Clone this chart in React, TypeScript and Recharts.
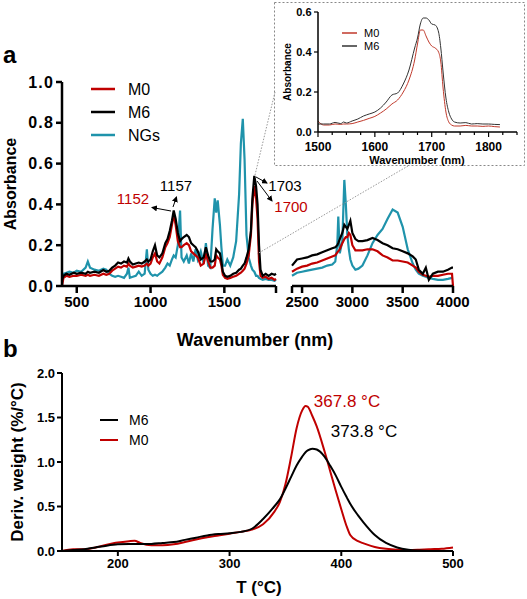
import { Line, LineChart, XAxis, YAxis } from "recharts";

const FONT = "Arial, 'Liberation Sans', sans-serif";
const RED = "#c00000";
const TEAL = "#1f93ab";

// panel a, left part of the broken axis (400-1850)
const waveLo = [
  400, 410, 430, 450, 480, 500, 530, 560, 575, 590,
  620, 650, 680, 700, 720, 740, 760, 780, 800, 820,
  840, 850, 860, 880, 900, 920, 940, 960, 975, 985,
  1000, 1015, 1030, 1045, 1060, 1080, 1100, 1115, 1130, 1145,
  1157, 1170, 1185, 1200, 1210, 1225, 1245, 1260, 1275, 1290,
  1305, 1320, 1340, 1360, 1375, 1390, 1405, 1420, 1435, 1445,
  1455, 1470, 1480, 1490, 1505, 1520, 1540, 1560, 1580, 1600,
  1612, 1625, 1637, 1650, 1665, 1680, 1690, 1703, 1715, 1725,
  1735, 1745, 1760, 1780, 1800, 1820, 1840, 1850
];
const m6Lo = [
  0.03, 0.05, 0.06, 0.055, 0.065, 0.06, 0.065, 0.06, 0.07, 0.065,
  0.07, 0.065, 0.078, 0.07, 0.075, 0.09, 0.1, 0.115, 0.11, 0.12,
  0.115, 0.135, 0.12, 0.105, 0.11, 0.115, 0.11, 0.12, 0.13, 0.12,
  0.13, 0.17, 0.2, 0.15, 0.14, 0.16, 0.21, 0.23, 0.27, 0.32,
  0.37, 0.33, 0.26, 0.22, 0.23, 0.24, 0.25, 0.24, 0.21, 0.2,
  0.19, 0.17, 0.13, 0.14, 0.19, 0.15, 0.12, 0.12, 0.13, 0.18,
  0.17, 0.16, 0.12, 0.07, 0.05, 0.045, 0.05, 0.06, 0.065, 0.08,
  0.085, 0.1, 0.11, 0.14, 0.18, 0.27, 0.43, 0.54, 0.49, 0.4,
  0.2, 0.08, 0.05, 0.06, 0.05, 0.06, 0.055, 0.06
];
const m0Lo = [
  0.0, 0.04, 0.05, 0.045, 0.05, 0.05, 0.055, 0.05, 0.055, 0.05,
  0.055, 0.05, 0.06, 0.055, 0.06, 0.075, 0.085, 0.095, 0.09, 0.1,
  0.095, 0.11, 0.1, 0.09, 0.095, 0.1, 0.095, 0.1, 0.11, 0.1,
  0.11, 0.14, 0.16, 0.12, 0.11, 0.14, 0.19, 0.21, 0.24, 0.3,
  0.35, 0.3, 0.22, 0.19, 0.19, 0.2, 0.21, 0.2, 0.17, 0.16,
  0.15, 0.14, 0.1, 0.11, 0.16, 0.12, 0.09, 0.09, 0.1, 0.15,
  0.14, 0.13, 0.1, 0.055, 0.04, 0.035, 0.04, 0.045, 0.05, 0.06,
  0.065, 0.075, 0.085, 0.11, 0.15, 0.25, 0.4, 0.49, 0.43, 0.33,
  0.12, 0.05, 0.04, 0.045, 0.035, 0.04, 0.03, 0.035
];
const ngsLo = [
  0.02, 0.06, 0.065, 0.07, 0.065, 0.075, 0.07, 0.09, 0.12, 0.09,
  0.08, 0.075, 0.085, 0.08, 0.06, 0.05, 0.045, 0.05, 0.045, 0.04,
  0.06, 0.09, 0.04, 0.045, 0.05, 0.07, 0.05, 0.06, 0.18, 0.08,
  0.06, 0.05, 0.055, 0.05, 0.06, 0.07, 0.09, 0.11, 0.1, 0.13,
  0.15, 0.14, 0.2, 0.37, 0.14, 0.12, 0.15, 0.11, 0.16, 0.12,
  0.18, 0.13, 0.17, 0.11, 0.21, 0.1, 0.09, 0.28, 0.43, 0.36,
  0.42, 0.3, 0.19, 0.1, 0.1, 0.13, 0.1, 0.14, 0.22, 0.45,
  0.7, 0.82, 0.62, 0.25, 0.14, 0.1, 0.08, 0.07, 0.05, 0.05,
  0.04, 0.035, 0.03, 0.035, 0.03, 0.03, 0.025, 0.03
];

// panel a, right part (2400-4000)
const waveHi = [
  2400, 2450, 2500, 2550, 2600, 2650, 2700, 2750, 2800, 2830,
  2850, 2860, 2875, 2900, 2920, 2935, 2950, 2965, 2980, 3000,
  3030, 3060, 3100, 3150, 3200, 3250, 3300, 3350, 3400, 3450,
  3500, 3550, 3600, 3630, 3660, 3700, 3730, 3760, 3800, 3850,
  3900, 3950, 3990, 4000
];
const m6Hi = [
  0.1, 0.13, 0.135, 0.14, 0.15, 0.155, 0.165, 0.175, 0.185, 0.19,
  0.2, 0.21, 0.23, 0.26, 0.3, 0.29, 0.28, 0.3, 0.32, 0.26,
  0.23, 0.22, 0.22, 0.225, 0.235, 0.225, 0.21, 0.2, 0.185, 0.18,
  0.17, 0.16, 0.145, 0.13, 0.08, 0.06, 0.09, 0.03, 0.06, 0.07,
  0.07, 0.08, 0.09, 0.09
];
const m0Hi = [
  0.07, 0.085, 0.095, 0.1, 0.11, 0.115, 0.125, 0.135, 0.145, 0.15,
  0.165, 0.17, 0.18, 0.21, 0.23, 0.24, 0.24, 0.26, 0.25, 0.2,
  0.175, 0.175, 0.175, 0.18, 0.18, 0.17, 0.15, 0.14, 0.125, 0.125,
  0.12, 0.115, 0.1, 0.09, 0.07, 0.055, 0.05, 0.045, 0.05, 0.05,
  0.055, 0.06, 0.06, 0
];
const ngsHi = [
  0.05, 0.065, 0.07, 0.075, 0.08, 0.085, 0.09, 0.1, 0.105, 0.12,
  0.2, 0.34, 0.16, 0.22, 0.52, 0.4, 0.25, 0.18, 0.13, 0.1,
  0.08, 0.085, 0.1, 0.15, 0.21, 0.25, 0.28, 0.33, 0.375, 0.36,
  0.29, 0.18, 0.11, 0.08, 0.06, 0.05, 0.045, 0.04, 0.035, 0.03,
  0.03, 0.035, 0.04, 0.04
];

// inset, carbonyl region
const waveIn = [
  1500, 1510, 1520, 1530, 1540, 1545, 1550, 1560, 1570, 1580,
  1590, 1600, 1610, 1620, 1630, 1640, 1650, 1660, 1670, 1675,
  1680, 1685, 1690, 1695, 1700, 1706, 1712, 1716, 1720, 1725,
  1730, 1735, 1740, 1750, 1760, 1770, 1780, 1790, 1800, 1810,
  1820
];
const m6In = [
  0.04, 0.04, 0.04, 0.048, 0.042, 0.05, 0.045, 0.055, 0.065, 0.08,
  0.09, 0.1, 0.12, 0.15, 0.185, 0.195, 0.24, 0.31, 0.42, 0.47,
  0.54, 0.57, 0.57, 0.56, 0.54, 0.535, 0.5, 0.42, 0.3, 0.17,
  0.1, 0.065, 0.05, 0.045, 0.047, 0.04, 0.042, 0.04, 0.04, 0.038,
  0.037
];
const m0In = [
  0.055, 0.035, 0.035, 0.04, 0.038, 0.04, 0.04, 0.042, 0.05, 0.058,
  0.068, 0.078, 0.095, 0.115, 0.14, 0.16, 0.2, 0.26, 0.36, 0.44,
  0.51, 0.51, 0.48, 0.45, 0.43, 0.42, 0.4, 0.35, 0.22, 0.1,
  0.05, 0.035, 0.03, 0.03, 0.033, 0.03, 0.03, 0.028, 0.03, 0.027,
  0.025
];

// panel b, DTG
const tempC = [
  150, 160, 170, 180, 190, 200, 210, 215, 220, 230,
  240, 250, 260, 270, 280, 290, 300, 310, 320, 330,
  340, 345, 350, 355, 360, 365, 368, 370, 374, 378,
  385, 390, 395, 400, 405, 408, 415, 420, 430, 440,
  450, 460, 470, 480, 490, 500
];
const dtgM6 = [
  0.0, 0.01, 0.02, 0.04, 0.06, 0.075, 0.08, 0.08, 0.078, 0.08,
  0.09, 0.1, 0.125, 0.15, 0.175, 0.19, 0.2, 0.215, 0.25, 0.36,
  0.5, 0.58, 0.7, 0.83, 0.96, 1.06, 1.11, 1.13, 1.15, 1.14,
  1.06, 0.96, 0.85, 0.72, 0.6, 0.53, 0.4, 0.32, 0.18, 0.09,
  0.04, 0.015, 0.005, 0.0, 0.0, 0.0
];
const dtgM0 = [
  0.0, 0.02, 0.02, 0.04, 0.07, 0.095, 0.11, 0.115, 0.09, 0.065,
  0.065, 0.075, 0.1, 0.13, 0.155, 0.175, 0.195, 0.215, 0.24, 0.3,
  0.44, 0.55, 0.75, 1.05, 1.38, 1.58, 1.63, 1.62, 1.52, 1.4,
  1.12, 0.9, 0.68, 0.47, 0.27, 0.18, 0.11, 0.085, 0.045, 0.025,
  0.015, 0.012, 0.015, 0.02, 0.025, 0.04
];

const absTicks = [0, 0.2, 0.4, 0.6, 0.8, 1.0];
const loTicks = [500, 1000, 1500, 1850];
const hiTicks = [2400, 2500, 3000, 3500, 4000];
const insetXTicks = [
  1500, 1525, 1550, 1575, 1600, 1625, 1650, 1675, 1700, 1725, 1750, 1775, 1800, 1825, 1850
];
const insetYTicks = [0, 0.2, 0.4, 0.6];
const tTicks = [200, 300, 400, 500];
const dtgTicks = [0, 0.5, 1.0, 1.5, 2.0];

const loData = waveLo.map((w, i) => ({ w, m0: m0Lo[i], m6: m6Lo[i], ngs: ngsLo[i] }));
const hiData = waveHi.map((w, i) => ({ w, m0: m0Hi[i], m6: m6Hi[i], ngs: ngsHi[i] }));
const inData = waveIn.map((w, i) => ({ w, m0: m0In[i], m6: m6In[i] }));
const dtgData = tempC.map((t, i) => ({ t, m6: dtgM6[i], m0: dtgM0[i] }));

const axisA = { stroke: "#000", strokeWidth: 2.5 };
const tickA = { fontSize: 15, fontWeight: "bold", fill: "#000", fontFamily: FONT };
const fmt1 = (v: number) => v.toFixed(1);

function InsetTick(props: any) {
  const { x, y, payload } = props;
  const major = payload.value % 100 === 0 && payload.value <= 1800;
  return (
    <g>
      <line x1={x} x2={x} y1={y} y2={y + (major ? 5 : 3)} stroke="#000" strokeWidth={1.2} />
      {major && (
        <text x={x} y={y + 19} textAnchor="middle" fontSize={12} fontWeight="bold" fontFamily={FONT} fill="#000">
          {payload.value}
        </text>
      )}
    </g>
  );
}

export default function App() {
  return (
    <div style={{ position: "absolute", left: 0, top: 0, width: 527, height: 599, background: "#fff", fontFamily: FONT }}>
      {/* panel a, low wavenumber segment */}
      <div style={{ position: "absolute", left: 0, top: 0 }}>
        <LineChart width={281} height={320} data={loData} margin={{ top: 82, right: 5, left: 0, bottom: 0 }}>
          <XAxis
            dataKey="w" type="number" domain={[400, 1850]} ticks={loTicks} interval={0}
            tickFormatter={(v: number) => (v === 1850 ? "" : String(v))}
            height={34} axisLine={axisA} tickLine={axisA} tickSize={7} tickMargin={3} tick={tickA}
          />
          <YAxis
            domain={[0, 1]} ticks={absTicks} interval={0} tickFormatter={fmt1} width={62}
            axisLine={axisA} tickLine={axisA} tickSize={6} tickMargin={2}
            tick={{ ...tickA, fontSize: 16, letterSpacing: 1.2 }}
          />
          <Line dataKey="ngs" type="linear" stroke={TEAL} strokeWidth={2.2} dot={false} isAnimationActive={false} />
          <Line dataKey="m0" type="linear" stroke={RED} strokeWidth={2.2} dot={false} isAnimationActive={false} />
          <Line dataKey="m6" type="linear" stroke="#000" strokeWidth={2.2} dot={false} isAnimationActive={false} />
        </LineChart>
      </div>

      {/* panel a, high wavenumber segment */}
      <div style={{ position: "absolute", left: 286, top: 0 }}>
        <LineChart width={200} height={320} data={hiData} margin={{ top: 82, right: 33, left: 6, bottom: 0 }}>
          <XAxis
            dataKey="w" type="number" domain={[2400, 4000]} ticks={hiTicks} interval={0}
            tickFormatter={(v: number) => (v === 2400 ? "" : String(v))}
            height={34} axisLine={axisA} tickLine={axisA} tickSize={7} tickMargin={3} tick={tickA}
          />
          <YAxis hide domain={[0, 1]} />
          <Line dataKey="ngs" type="linear" stroke={TEAL} strokeWidth={2.2} dot={false} isAnimationActive={false} />
          <Line dataKey="m0" type="linear" stroke={RED} strokeWidth={2.2} dot={false} isAnimationActive={false} />
          <Line dataKey="m6" type="linear" stroke="#000" strokeWidth={2.2} dot={false} isAnimationActive={false} />
        </LineChart>
      </div>

      {/* inset */}
      <div style={{ position: "absolute", left: 275, top: 0 }}>
        <LineChart width={250} height={170} data={inData} margin={{ top: 12, right: 8, left: 0, bottom: 0 }}>
          <XAxis
            dataKey="w" type="number" domain={[1500, 1850]} ticks={insetXTicks} interval={0}
            height={38} axisLine={{ stroke: "#000", strokeWidth: 1.5 }} tickLine={false}
            tickSize={0} tickMargin={0} tick={<InsetTick />}
          />
          <YAxis
            domain={[0, 0.6]} ticks={insetYTicks} interval={0} tickFormatter={fmt1} width={43}
            axisLine={{ stroke: "#000", strokeWidth: 1.5 }} tickLine={{ stroke: "#000", strokeWidth: 1.2 }}
            tickSize={4} tickMargin={2.5}
            tick={{ fontSize: 11, fontWeight: "bold", fill: "#000", fontFamily: FONT }}
          />
          <Line dataKey="m0" type="monotone" stroke="#c0392b" strokeWidth={1} dot={false} isAnimationActive={false} />
          <Line dataKey="m6" type="monotone" stroke="#333" strokeWidth={1} dot={false} isAnimationActive={false} />
        </LineChart>
      </div>

      {/* panel b */}
      <div style={{ position: "absolute", left: 0, top: 340 }}>
        <LineChart width={490} height={240} data={dtgData} margin={{ top: 33, right: 37, left: 0, bottom: 0 }}>
          <XAxis
            dataKey="t" type="number" domain={[150, 500]} ticks={tTicks} interval={0}
            height={29} axisLine={{ stroke: "#000", strokeWidth: 2 }} tickLine={{ stroke: "#000", strokeWidth: 2 }}
            tickSize={5} tickMargin={3} tick={{ fontSize: 13, fontWeight: "bold", fill: "#000", fontFamily: FONT }}
          />
          <YAxis
            domain={[0, 2]} ticks={dtgTicks} interval={0} tickFormatter={fmt1} width={62}
            axisLine={{ stroke: "#000", strokeWidth: 2 }} tickLine={{ stroke: "#000", strokeWidth: 2 }}
            tickSize={5} tickMargin={2} tick={{ fontSize: 13, fontWeight: "bold", fill: "#000", fontFamily: FONT }}
          />
          <Line dataKey="m0" type="monotone" stroke={RED} strokeWidth={2} dot={false} isAnimationActive={false} />
          <Line dataKey="m6" type="monotone" stroke="#000" strokeWidth={2} dot={false} isAnimationActive={false} />
        </LineChart>
      </div>

      {/* labels, legends and annotations */}
      <svg width={527} height={599} style={{ position: "absolute", left: 0, top: 0, pointerEvents: "none" }} fontFamily={FONT}>
        <defs>
          <marker id="arr" markerWidth={6} markerHeight={6} refX={5} refY={3} orient="auto">
            <path d="M0,0 L6,3 L0,6 z" fill="#000" />
          </marker>
        </defs>

        <rect x={274.5} y={2.5} width={250} height={163} fill="none" stroke="#888" strokeWidth={1} strokeDasharray="2 2" />
        <line x1={275} y1={92} x2={255} y2={175} stroke="#999" strokeWidth={1} strokeDasharray="1.5 1.5" />
        <line x1={408} y1={166} x2={257} y2={254} stroke="#999" strokeWidth={1} strokeDasharray="1.5 1.5" />

        <text x={3} y={63} fontSize={24} fontWeight="bold">a</text>
        <text x={3} y={357} fontSize={24} fontWeight="bold">b</text>

        <text x={10} y={184} fontSize={16} fontWeight="bold" textAnchor="middle" dominantBaseline="central" transform="rotate(-90 10 184)">Absorbance</text>
        <text x={255} y={340} fontSize={18} fontWeight="bold" textAnchor="middle" dominantBaseline="central">Wavenumber (nm)</text>

        <line x1={91} x2={115} y1={89} y2={89} stroke={RED} strokeWidth={2.5} />
        <line x1={91} x2={115} y1={112} y2={112} stroke="#000" strokeWidth={2.5} />
        <line x1={91} x2={115} y1={135} y2={135} stroke={TEAL} strokeWidth={2.5} />
        <text x={128} y={89} fontSize={16} dominantBaseline="central">M0</text>
        <text x={128} y={112} fontSize={16} dominantBaseline="central">M6</text>
        <text x={128} y={135} fontSize={16} dominantBaseline="central">NGs</text>

        <text x={176} y={185} fontSize={15} textAnchor="middle" dominantBaseline="central">1157</text>
        <text x={133} y={198} fontSize={15} textAnchor="middle" dominantBaseline="central" fill={RED}>1152</text>
        <text x={285} y={185} fontSize={15} textAnchor="middle" dominantBaseline="central">1703</text>
        <text x={291} y={206} fontSize={15} textAnchor="middle" dominantBaseline="central" fill={RED}>1700</text>
        <line x1={173} y1={207} x2={176.5} y2={197} stroke="#000" strokeWidth={1} markerEnd="url(#arr)" />
        <line x1={171} y1={211} x2={152} y2={207.5} stroke="#000" strokeWidth={1} markerEnd="url(#arr)" />
        <line x1={256} y1={177} x2={267} y2={183} stroke="#000" strokeWidth={1} markerEnd="url(#arr)" />
        <line x1={257} y1={181} x2={272} y2={201} stroke="#000" strokeWidth={1} markerEnd="url(#arr)" />

        <line x1={342} x2={357} y1={33} y2={33} stroke="#c0392b" strokeWidth={1.5} />
        <line x1={342} x2={357} y1={46} y2={46} stroke="#333" strokeWidth={1.5} />
        <text x={364} y={33} fontSize={11} dominantBaseline="central">M0</text>
        <text x={364} y={46} fontSize={11} dominantBaseline="central">M6</text>
        <text x={287.5} y={72} fontSize={10} fontWeight="bold" textAnchor="middle" dominantBaseline="central" transform="rotate(-90 287.5 72)">Absorbance</text>
        <text x={417} y={160} fontSize={11} fontWeight="bold" textAnchor="middle" dominantBaseline="central">Wavenumber (nm)</text>

        <line x1={100} x2={118} y1={420} y2={420} stroke="#000" strokeWidth={2} />
        <line x1={100} x2={118} y1={440} y2={440} stroke={RED} strokeWidth={2} />
        <text x={129} y={420} fontSize={14} dominantBaseline="central">M6</text>
        <text x={129} y={440} fontSize={14} dominantBaseline="central">M0</text>
        <text x={347} y={401} fontSize={17} textAnchor="middle" dominantBaseline="central" fill={RED}>367.8 °C</text>
        <text x={364} y={431} fontSize={17} textAnchor="middle" dominantBaseline="central">373.8 °C</text>
        <text x={17} y={462} fontSize={17} fontWeight="bold" textAnchor="middle" dominantBaseline="central" transform="rotate(-90 17 462)">Deriv. weight (%/°C)</text>
        <text x={259} y={587} fontSize={17} fontWeight="bold" textAnchor="middle" dominantBaseline="central">T (°C)</text>
      </svg>
    </div>
  );
}
